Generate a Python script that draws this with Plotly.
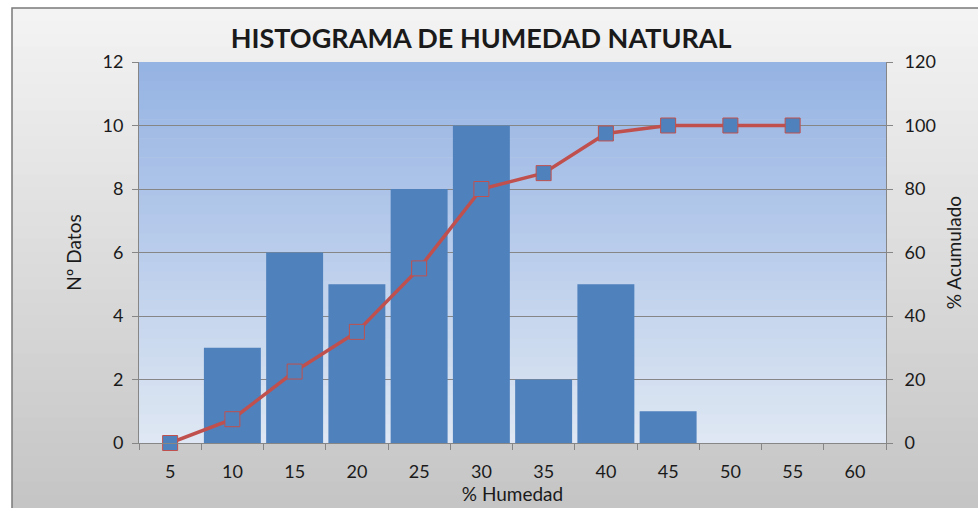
import plotly.graph_objects as go

# Humidity classes (%), number of samples per class, cumulative percentage
humedad = ["5", "10", "15", "20", "25", "30", "35", "40", "45", "50", "55", "60"]
n_datos = [0, 3, 6, 5, 8, 10, 2, 5, 1, 0, 0, 0]
acum_clases = ["5", "10", "15", "20", "25", "30", "35", "40", "45", "50", "55"]
acumulado = [0, 7.5, 22.5, 35, 55, 80, 85, 97.5, 100, 100, 100]

W, H = 978, 508
L, R, T, B = 139, 886, 62, 443  # plot area in pixels


def px_x(x):
    return (x - L) / (R - L)


def px_y(y):
    return (B - y) / (B - T)


def lerp(c1, c2, t):
    return "rgb(%d,%d,%d)" % tuple(round(a + (b - a) * t) for a, b in zip(c1, c2))


shapes = []
# chart-area background: light grey vertical gradient
n = 40
top_y, bot_y = 8, 520
for i in range(n):
    y0 = top_y + (bot_y - top_y) * i / n
    y1 = top_y + (bot_y - top_y) * (i + 1) / n + 1
    shapes.append(dict(type="rect", xref="paper", yref="paper",
                       x0=px_x(12), x1=px_x(1000), y0=px_y(y1), y1=px_y(y0),
                       fillcolor=lerp((243, 243, 243), (196, 196, 196), i / (n - 1)),
                       line=dict(width=0), layer="below"))
# plot-area background: blue vertical gradient
for i in range(n):
    y0 = T + (B - T) * i / n
    y1 = T + (B - T) * (i + 1) / n + 0.6
    shapes.append(dict(type="rect", xref="paper", yref="paper",
                       x0=0, x1=1, y0=px_y(min(y1, B)), y1=px_y(y0),
                       fillcolor=lerp((149, 179, 227), (222, 231, 243), i / (n - 1)),
                       line=dict(width=0), layer="below"))
# chart-area border
shapes.append(dict(type="rect", xref="paper", yref="paper",
                   x0=px_x(12), x1=px_x(1000), y0=px_y(530), y1=px_y(8),
                   fillcolor="rgba(0,0,0,0)", line=dict(color="#7a7a7a", width=1.5),
                   layer="above"))

font = "Lato, 'Open Sans', sans-serif"
txt = "#1a1a1a"

fig = go.Figure()
fig.add_trace(go.Bar(
    x=humedad, y=n_datos, marker=dict(color="#4f81bd", line=dict(width=0)),
    name="Nº Datos", yaxis="y",
))
fig.add_trace(go.Scatter(
    x=acum_clases, y=acumulado, mode="lines+markers", yaxis="y2",
    name="% Acumulado",
    line=dict(color="#c0504d", width=3.5),
    marker=dict(symbol="square", size=15, color="#4f81bd",
                line=dict(color="#c0504d", width=1)),
    cliponaxis=False,
))

axis_common = dict(
    showline=True, linecolor="#868686", linewidth=1,
    ticks="outside", ticklen=6, tickcolor="#868686",
    tickfont=dict(family=font, size=18, color=txt),
    zeroline=False, automargin=False,
)

fig.update_layout(
    width=W, height=H, autosize=False,
    margin=dict(l=L, r=W - R, t=T, b=H - B),
    paper_bgcolor="white", plot_bgcolor="rgba(0,0,0,0)",
    showlegend=False, bargap=0.085,
    title=dict(text="<b>HISTOGRAMA DE HUMEDAD NATURAL</b>", x=0.492, xanchor="center",
               y=1 - 39 / H, yanchor="middle",
               font=dict(family=font, size=27, color=txt)),
    xaxis=dict(type="category", tickson="boundaries", range=[-0.5, len(humedad) - 0.5],
               ticklabelstandoff=12,
               title=dict(text="% Humedad", standoff=0,
                          font=dict(family=font, size=19, color=txt)),
               showgrid=False, **axis_common),
    yaxis=dict(range=[0, 12], dtick=2, showgrid=True, gridcolor="#868686", gridwidth=1,
               ticklabelstandoff=5,
               title=dict(text="Nº Datos", standoff=15,
                          font=dict(family=font, size=19, color=txt)),
               **axis_common),
    yaxis2=dict(range=[0, 120], dtick=20, overlaying="y", side="right", showgrid=False,
                ticklabelstandoff=8,
                title=dict(text="% Acumulado", standoff=12,
                           font=dict(family=font, size=19, color=txt)),
                **axis_common),
    shapes=shapes,
)

fig.write_html("out.html")
